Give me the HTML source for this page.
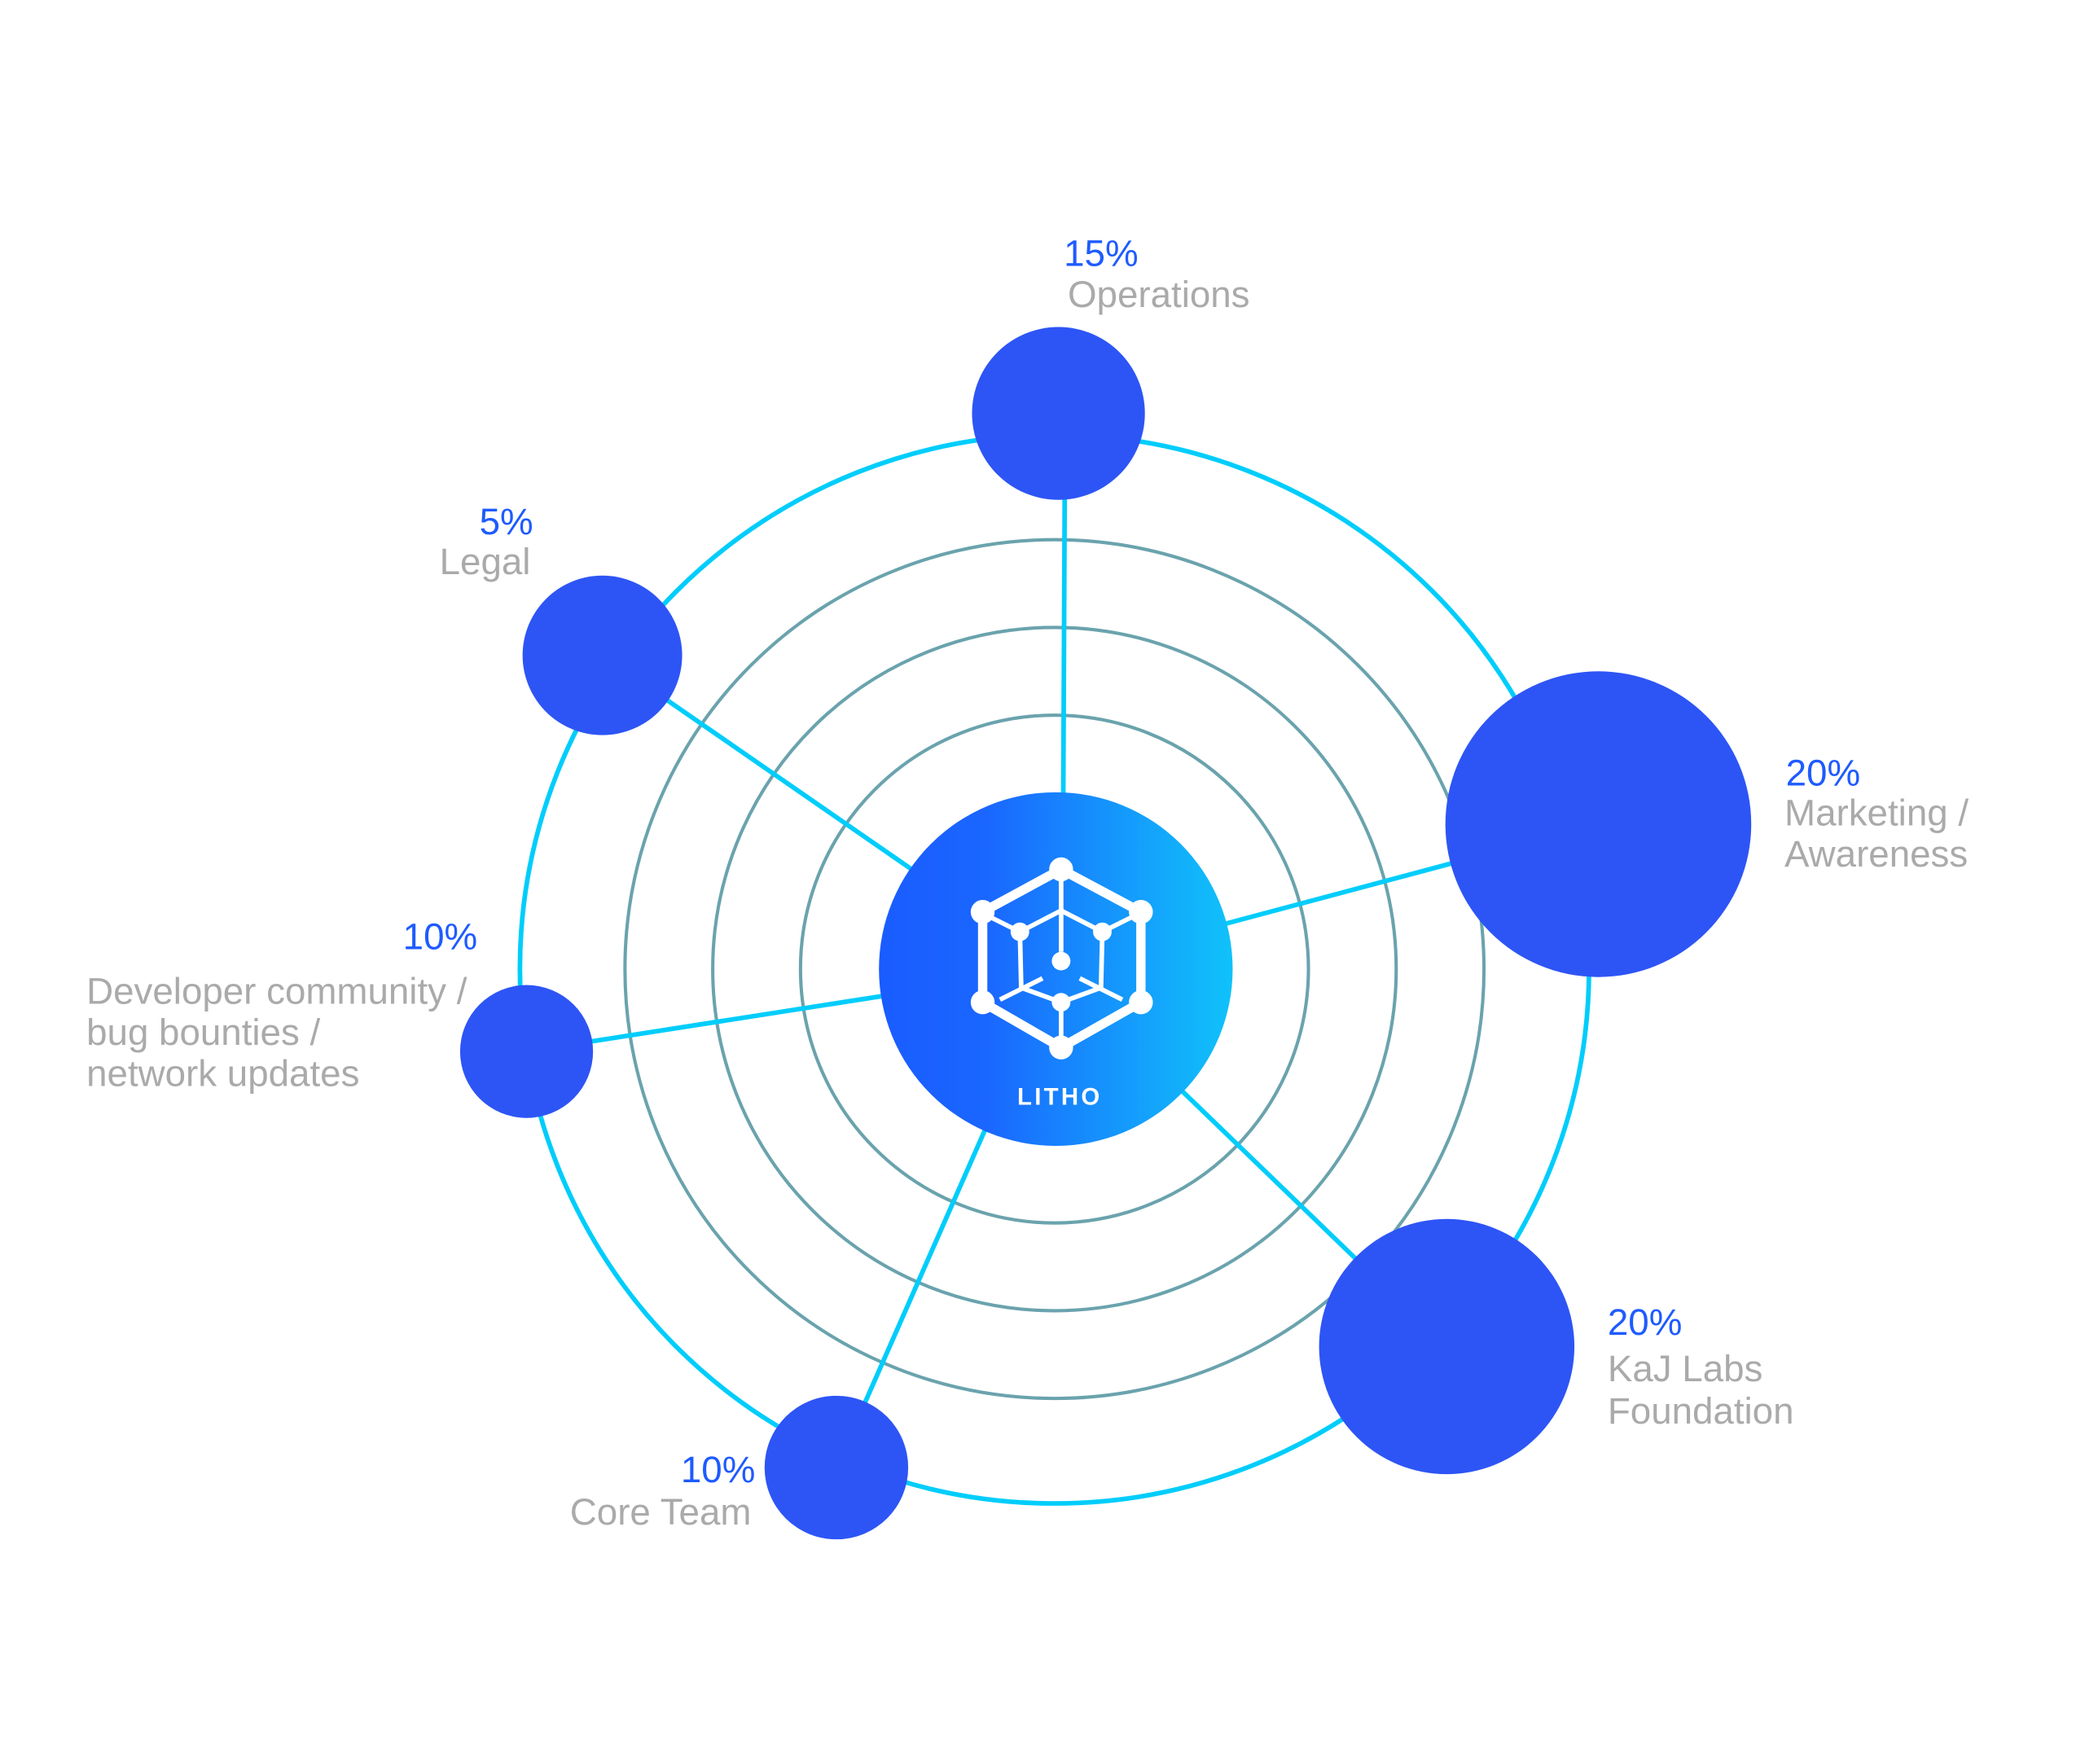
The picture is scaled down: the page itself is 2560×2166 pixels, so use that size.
<!DOCTYPE html>
<html><head><meta charset="utf-8"><style>html,body{margin:0;padding:0;background:#fff;}svg{display:block}</style></head>
<body>
<svg width="2560" height="2166" viewBox="0 0 1568 1327" preserveAspectRatio="none" xmlns="http://www.w3.org/2000/svg" font-family="'Liberation Sans', Arial, sans-serif">
<defs>
<linearGradient id="g" x1="0" y1="0" x2="1" y2="0">
<stop offset="0" stop-color="#1a5cff"/><stop offset="0.3" stop-color="#1a66ff"/><stop offset="1" stop-color="#10c2fa"/>
</linearGradient>
</defs>
<rect width="1568" height="1327" fill="#fff"/>
<g fill="none" stroke="#6aa3ad" stroke-width="2.5">
<circle cx="793" cy="729" r="191"/>
<circle cx="793" cy="729" r="257"/>
<circle cx="793" cy="729" r="323"/>
</g>
<circle cx="793" cy="729" r="402" fill="none" stroke="#00cdfb" stroke-width="3.5"/>
<g stroke="#00cdfb" stroke-width="3.5">
<line x1="799" y1="729" x2="801" y2="311"/>
<line x1="794" y1="729" x2="453" y2="493"/>
<line x1="794" y1="729" x2="1202" y2="620"/>
<line x1="794" y1="729" x2="396" y2="791"/>
<line x1="794" y1="729" x2="629" y2="1104"/>
<line x1="794" y1="729" x2="1088" y2="1013"/>
</g>
<g fill="#2d55f5">
<circle cx="796" cy="311" r="65"/>
<circle cx="453" cy="493" r="60"/>
<circle cx="1202" cy="620" r="115"/>
<circle cx="396" cy="791" r="50"/>
<circle cx="629" cy="1104" r="54"/>
<circle cx="1088" cy="1013" r="96"/>
</g>
<circle cx="794" cy="729" r="133" fill="url(#g)"/>
<g stroke="#fff" fill="none">
<polygon points="798,654 739,686 739,754 798,788 858,754 858,686" stroke-width="7"/>
<g stroke-width="3.5">
<line x1="798" y1="660" x2="798" y2="716"/>
<line x1="767" y1="701" x2="798" y2="685"/><line x1="829" y1="701" x2="798" y2="685"/>
<line x1="767" y1="701" x2="768" y2="743"/><line x1="829" y1="701" x2="828" y2="743"/>
<line x1="745" y1="690" x2="767" y2="701"/><line x1="851" y1="690" x2="829" y2="701"/>
<line x1="752" y1="752" x2="784" y2="736"/><line x1="844" y1="752" x2="812" y2="736"/>
<line x1="768" y1="743" x2="798" y2="754"/><line x1="828" y1="743" x2="798" y2="754"/>
<line x1="798" y1="754" x2="798" y2="788"/>
</g>
</g>
<g fill="#fff">
<circle cx="798" cy="654" r="9"/><circle cx="739" cy="686" r="9"/><circle cx="739" cy="754" r="9"/>
<circle cx="798" cy="788" r="9"/><circle cx="858" cy="754" r="9"/><circle cx="858" cy="686" r="9"/>
<circle cx="767" cy="701" r="7"/><circle cx="829" cy="701" r="7"/><circle cx="798" cy="723" r="7"/><circle cx="798" cy="754" r="7"/>
</g>
<text x="797" y="831" fill="#fff" font-size="18" font-weight="bold" text-anchor="middle" letter-spacing="2">LITHO</text>
<g font-size="28">
<text x="800" y="200" fill="#1e5bff">15%</text>
<text x="803" y="231" fill="#aaaaaa">Operations</text>
<text x="401" y="402" fill="#1e5bff" text-anchor="end">5%</text>
<text x="399" y="432" fill="#aaaaaa" text-anchor="end">Legal</text>
<text x="1343" y="591" fill="#1e5bff">20%</text>
<text x="1342" y="621" fill="#aaaaaa">Marketing /</text>
<text x="1342" y="652" fill="#aaaaaa">Awareness</text>
<text x="359" y="714" fill="#1e5bff" text-anchor="end">10%</text>
<text x="65" y="755" fill="#aaaaaa">Developer community /</text>
<text x="65" y="786" fill="#aaaaaa">bug bounties /</text>
<text x="65" y="817" fill="#aaaaaa">network updates</text>
<text x="568" y="1115" fill="#1e5bff" text-anchor="end">10%</text>
<text x="565" y="1147" fill="#aaaaaa" text-anchor="end">Core Team</text>
<text x="1209" y="1004" fill="#1e5bff">20%</text>
<text x="1209" y="1039" fill="#aaaaaa">KaJ Labs</text>
<text x="1209" y="1071" fill="#aaaaaa">Foundation</text>
</g>
</svg>
</body></html>
